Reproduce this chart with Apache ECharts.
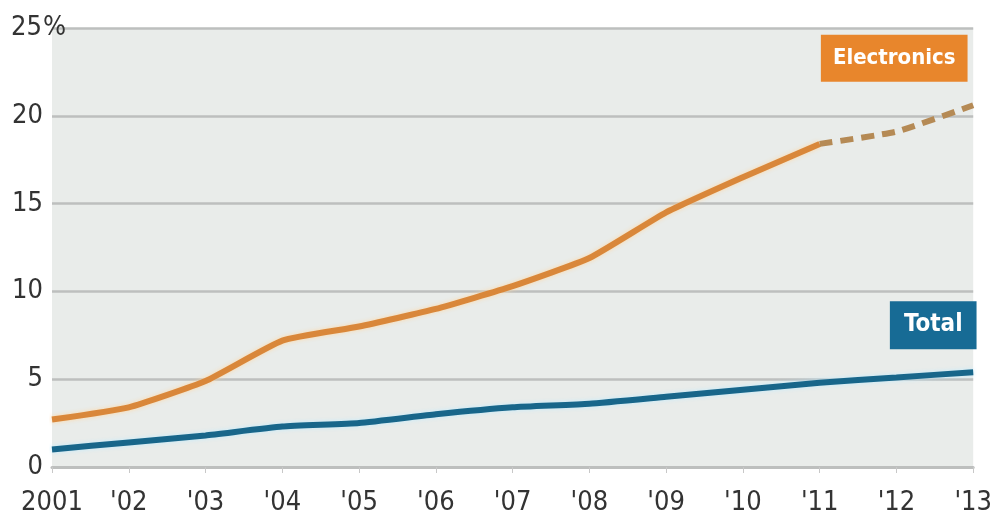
<!DOCTYPE html>
<html>
<head>
<meta charset="utf-8">
<script src="https://cdn.jsdelivr.net/npm/echarts@6/dist/echarts.min.js"></script>
<style>
  html, body { margin: 0; padding: 0; background: #fff; }
  #chart { width: 995px; height: 520px; }
</style>
</head>
<body>
<div id="chart"></div>
<script>
var years = ['2001', "'02", "'03", "'04", "'05", "'06", "'07", "'08", "'09", "'10", "'11", "'12", "'13"];
var electronics = [2.7, 3.4, 4.9, 7.2, 8.0, 9.0, 10.3, 11.9, 14.5, 16.5, 18.4, null, null];
var electronicsProjected = [null, null, null, null, null, null, null, null, null, null, 18.4, 19.1, 20.6];
var total = [1.0, 1.4, 1.8, 2.3, 2.5, 3.0, 3.4, 3.6, 4.0, 4.4, 4.8, 5.1, 5.4];
var yTicks = [0, 5, 10, 15, 20, 25];

var orange = '#d9873a';
var blue = '#18668a';
var labelFont = "'DejaVu Sans Condensed', 'Liberation Sans', Arial, sans-serif";

var myChart = echarts.init(document.getElementById('chart'));

// last point of a series gets the tag box
function tagLast(arr, text, bg, offset, fontSize, padding) {
    var last = arr.length - 1;
    return {
        name: text,
        type: 'scatter',
        symbolSize: 0,
        silent: true,
        z: 10,
        itemStyle: { opacity: 1 },
        data: [[years[last], arr[last]]],
        label: {
            show: true,
            position: 'inside',
            offset: offset,
            formatter: text,
            color: '#fff',
            fontFamily: labelFont,
            fontWeight: 'bold',
            fontSize: fontSize,
            backgroundColor: bg,
            padding: padding
        }
    };
}

var option = {
    animation: false,
    grid: {
        left: 52,
        right: 19,
        top: 28,
        bottom: 53,
        show: true,
        backgroundColor: '#e9ecea',
        borderWidth: 0
    },
    xAxis: {
        type: 'category',
        boundaryGap: false,
        data: years,
        axisLine: { lineStyle: { color: '#bdbfbe', width: 3 } },
        axisTick: { show: true, interval: 0, length: 6, lineStyle: { color: '#c8c8c8', width: 1 } },
        axisLabel: {
            interval: 0,
            margin: 22,
            color: '#333',
            fontFamily: labelFont,
            fontSize: 27
        },
        splitLine: { show: false }
    },
    yAxis: {
        type: 'value',
        min: yTicks[0],
        max: yTicks[yTicks.length - 1],
        interval: 5,
        axisLine: { show: false },
        axisTick: { show: false },
        axisLabel: {
            align: 'left',
            margin: 42,
            color: '#333',
            fontFamily: labelFont,
            fontSize: 27,
            formatter: function (v) {
                return v === 25 ? '{n|25}{p|%}' : '{n|' + v + '}';
            },
            rich: {
                n: { width: 33, align: 'right', color: '#333', fontFamily: labelFont, fontSize: 27 },
                p: { color: '#333', fontFamily: labelFont, fontSize: 27 }
            }
        },
        splitLine: { lineStyle: { color: '#bdbfbe', width: 2.5 } }
    },
    series: [{
        name: 'Electronics',
        type: 'line',
        data: electronics,
        smooth: 0.15,
        symbol: 'none',
        lineStyle: { color: orange, width: 6, shadowColor: 'rgba(255,214,160,0.9)', shadowBlur: 4 },
        z: 3
    }, {
        name: 'Electronics (projected)',
        type: 'line',
        data: electronicsProjected,
        smooth: 0.15,
        symbol: 'none',
        lineStyle: { color: '#b58a55', width: 6, type: [13, 8] },
        z: 3
    }, {
        name: 'Total',
        type: 'line',
        data: total,
        smooth: 0.15,
        symbol: 'none',
        lineStyle: { color: blue, width: 6, shadowColor: 'rgba(190,235,255,0.9)', shadowBlur: 4 },
        z: 3
    },
    tagLast(electronicsProjected, 'Electronics', '#e8862c', [-79, -47], 22, [14, 12, 11, 12]),
    tagLast(total, 'Total', '#176b95', [-40, -47], 24, [13, 14, 11, 14])
    ]
};
myChart.setOption(option, true);
</script>
</body>
</html>
